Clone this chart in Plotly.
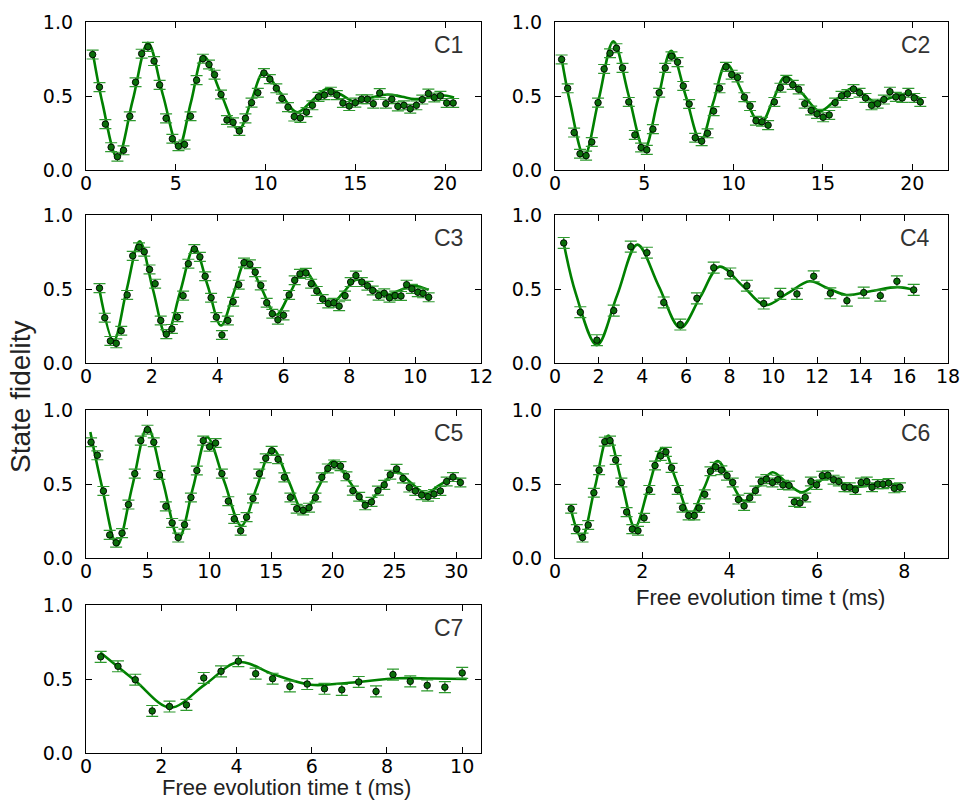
import plotly.graph_objects as go

# ---------------- data ----------------
c1_x = [0.37,0.75,1.08,1.40,1.75,2.09,2.44,2.76,3.10,3.45,3.79,4.10,4.46,4.81,5.15,5.49,5.82,6.16,6.51,6.85,
        7.16,7.52,7.85,8.19,8.54,8.88,9.22,9.57,9.91,10.24,10.60,10.91,11.25,11.60,11.94,12.28,12.61,12.95,13.28,13.64,
        13.97,14.31,14.66,15.00,15.35,15.67,16.00,16.36,16.70,17.03,17.37,17.71,18.06,18.40,18.73,19.07,19.40,19.74,20.09,20.45]
c1_y = [0.78,0.56,0.31,0.154,0.09,0.133,0.363,0.593,0.786,0.832,0.736,0.575,0.349,0.211,0.161,0.172,0.363,0.607,0.752,0.713,
        0.644,0.510,0.338,0.322,0.264,0.349,0.455,0.522,0.655,0.614,0.552,0.483,0.425,0.361,0.352,0.391,0.437,0.494,0.506,0.529,
        0.506,0.453,0.432,0.455,0.478,0.478,0.448,0.520,0.448,0.478,0.430,0.437,0.414,0.437,0.476,0.517,0.490,0.501,0.453,0.453]
c1_fit_x = [0.37,0.92,1.75,2.6,3.45,4.3,5.15,5.85,6.55,7.5,8.5,9.2,9.9,10.8,11.75,12.6,13.45,14.2,15.0,15.9,16.8,17.6,18.3,19.1,19.8,20.5]
c1_fit_y = [0.80,0.45,0.08,0.47,0.86,0.50,0.15,0.46,0.77,0.52,0.27,0.465,0.66,0.525,0.39,0.47,0.55,0.51,0.46,0.49,0.51,0.495,0.48,0.49,0.505,0.49]

c2_x = [0.37,0.71,1.07,1.40,1.74,2.06,2.41,2.75,3.08,3.44,3.78,4.13,4.47,4.82,5.14,5.48,5.83,6.17,6.52,6.86,
        7.18,7.51,7.85,8.21,8.54,8.88,9.21,9.57,9.89,10.22,10.60,10.92,11.25,11.59,11.93,12.28,12.62,12.95,13.31,13.64,
        13.98,14.34,14.67,15.01,15.35,15.68,16.04,16.37,16.71,17.05,17.38,17.72,18.06,18.41,18.75,19.08,19.44,19.78,20.11,20.45]
c2_y = [0.747,0.552,0.253,0.110,0.097,0.189,0.455,0.683,0.789,0.823,0.690,0.460,0.237,0.152,0.136,0.276,0.522,0.690,0.768,0.729,
        0.568,0.446,0.218,0.195,0.248,0.398,0.552,0.697,0.644,0.625,0.492,0.432,0.333,0.326,0.303,0.460,0.556,0.609,0.575,0.545,
        0.448,0.402,0.379,0.356,0.372,0.455,0.501,0.513,0.547,0.522,0.487,0.437,0.448,0.476,0.529,0.494,0.487,0.522,0.487,0.460]
c2_fit_x = [0.34,0.85,1.64,2.45,3.27,4.13,5.0,5.75,6.5,7.32,8.15,8.87,9.59,10.55,11.5,12.2,12.9,13.86,14.82,15.75,16.69,17.3,17.9,18.85,19.78,20.5]
c2_fit_y = [0.775,0.45,0.092,0.48,0.869,0.50,0.138,0.47,0.805,0.50,0.195,0.46,0.717,0.51,0.31,0.47,0.632,0.515,0.398,0.477,0.556,0.508,0.46,0.49,0.517,0.478]

c3_x = [0.41,0.57,0.74,0.92,1.07,1.25,1.42,1.61,1.77,1.93,2.10,2.27,2.44,2.61,2.78,2.95,3.11,3.29,3.46,3.62,
        3.80,3.96,4.13,4.31,4.47,4.64,4.80,4.98,5.14,5.31,5.49,5.66,5.83,6.00,6.17,6.34,6.50,6.68,6.84,7.01,
        7.19,7.36,7.53,7.69,7.87,8.04,8.20,8.38,8.55,8.71,8.89,9.06,9.22,9.39,9.57,9.74,9.90,10.08,10.24,10.41]
c3_y = [0.506,0.306,0.149,0.133,0.218,0.460,0.724,0.782,0.752,0.632,0.536,0.287,0.195,0.230,0.310,0.455,0.671,0.770,0.717,0.586,
        0.441,0.310,0.189,0.287,0.414,0.529,0.678,0.667,0.614,0.524,0.407,0.333,0.292,0.322,0.460,0.559,0.602,0.609,0.536,0.487,
        0.432,0.402,0.407,0.384,0.455,0.547,0.591,0.547,0.522,0.490,0.455,0.471,0.441,0.455,0.453,0.529,0.501,0.478,0.471,0.444]
c3_fit_x = [0.41,0.84,1.23,1.63,2.03,2.44,2.86,3.29,3.70,4.10,4.48,4.87,5.32,5.78,6.2,6.62,7.02,7.41,7.82,8.22,8.66,9.1,9.52,9.95,10.41]
c3_fit_y = [0.494,0.149,0.49,0.823,0.50,0.184,0.48,0.782,0.52,0.253,0.47,0.694,0.51,0.326,0.475,0.625,0.51,0.391,0.477,0.563,0.51,0.46,0.49,0.522,0.494]

c4_x = [0.40,1.16,1.92,2.69,3.47,4.21,4.98,5.74,6.50,7.27,8.03,8.79,9.56,10.32,11.08,11.85,12.61,13.37,14.14,14.90,15.66,16.43]
c4_y = [0.811,0.343,0.154,0.354,0.786,0.745,0.409,0.260,0.437,0.644,0.605,0.522,0.402,0.467,0.467,0.586,0.471,0.421,0.476,0.455,0.552,0.494]
c4_fit_x = [0.37,0.95,1.92,2.85,3.77,4.75,5.74,6.65,7.54,8.6,9.63,10.65,11.66,12.5,13.34,14.5,15.69,16.46]
c4_fit_y = [0.832,0.47,0.12,0.46,0.80,0.52,0.237,0.445,0.651,0.52,0.391,0.47,0.552,0.505,0.46,0.487,0.513,0.494]

c5_x = [0.41,0.92,1.41,1.92,2.44,2.92,3.44,3.95,4.44,4.98,5.49,5.95,6.47,6.98,7.47,7.98,8.50,8.98,9.50,10.01,
        10.50,11.01,11.53,12.01,12.53,13.01,13.53,14.04,14.56,15.04,15.56,16.07,16.56,17.07,17.59,18.07,18.59,19.10,19.59,20.10,
        20.62,21.10,21.62,22.13,22.62,23.13,23.65,24.16,24.65,25.16,25.68,26.19,26.68,27.19,27.71,28.19,28.71,29.22,29.73,30.33]
c5_y = [0.782,0.694,0.453,0.156,0.103,0.168,0.361,0.570,0.793,0.867,0.782,0.561,0.349,0.237,0.138,0.225,0.409,0.591,0.793,0.752,
        0.777,0.570,0.384,0.264,0.184,0.276,0.402,0.570,0.674,0.724,0.667,0.545,0.409,0.333,0.322,0.340,0.409,0.545,0.605,0.632,
        0.621,0.552,0.455,0.414,0.356,0.379,0.455,0.494,0.563,0.602,0.538,0.476,0.453,0.425,0.414,0.432,0.453,0.517,0.547,0.510]
c5_fit_x = [0.35,1.3,2.52,3.75,4.98,6.25,7.52,8.67,9.82,11.2,12.58,13.84,15.10,16.4,17.67,18.85,20.02,21.4,22.73,23.9,25.11,26.3,27.54,28.6,29.7,30.38]
c5_fit_y = [0.851,0.48,0.085,0.485,0.885,0.51,0.133,0.475,0.816,0.517,0.218,0.479,0.740,0.523,0.306,0.48,0.655,0.51,0.368,0.477,0.586,0.51,0.437,0.49,0.54,0.529]

c6_x = [0.37,0.50,0.63,0.76,0.89,1.01,1.14,1.26,1.39,1.52,1.64,1.77,1.90,2.04,2.16,2.29,2.42,2.54,2.67,2.81,
        2.92,3.06,3.19,3.30,3.43,3.56,3.68,3.81,3.94,4.07,4.20,4.33,4.46,4.59,4.72,4.84,4.98,5.10,5.22,5.36,
        5.48,5.61,5.73,5.86,5.99,6.12,6.25,6.38,6.50,6.63,6.75,6.88,7.01,7.14,7.26,7.39,7.51,7.64,7.77,7.90]
c6_y = [0.333,0.195,0.138,0.223,0.441,0.593,0.786,0.793,0.662,0.510,0.310,0.195,0.184,0.271,0.460,0.625,0.690,0.717,0.609,0.460,
        0.340,0.287,0.287,0.338,0.430,0.586,0.616,0.593,0.556,0.510,0.395,0.352,0.407,0.455,0.517,0.533,0.510,0.529,0.494,0.490,
        0.379,0.372,0.409,0.517,0.494,0.556,0.559,0.529,0.517,0.478,0.478,0.460,0.510,0.517,0.478,0.499,0.499,0.506,0.471,0.478]
c6_fit_x = [0.37,0.61,0.915,1.22,1.52,1.83,2.14,2.46,2.78,3.10,3.41,3.72,4.02,4.33,4.65,4.98,5.3,5.65,5.95,6.25,6.54,6.83,7.15,7.47,7.7,7.93]
c6_fit_y = [0.322,0.133,0.48,0.828,0.52,0.207,0.475,0.743,0.52,0.292,0.47,0.655,0.52,0.386,0.48,0.579,0.51,0.444,0.495,0.547,0.51,0.478,0.49,0.506,0.50,0.494]

c7_x = [0.39,0.85,1.31,1.76,2.22,2.67,3.13,3.59,4.05,4.51,4.96,5.42,5.88,6.34,6.80,7.25,7.71,8.16,8.62,9.07,9.54,10.0]
c7_y = [0.650,0.586,0.495,0.284,0.314,0.325,0.507,0.552,0.620,0.536,0.502,0.450,0.466,0.434,0.427,0.480,0.416,0.530,0.484,0.457,0.445,0.541]
c7_fit_x = [0.39,1.3,2.24,3.15,4.05,5.0,5.98,7.0,8.3,9.2,10.12]
c7_fit_y = [0.677,0.49,0.307,0.46,0.614,0.53,0.461,0.475,0.505,0.503,0.50]

panel_labels = ["C1", "C2", "C3", "C4", "C5", "C6", "C7"]
x_ranges = [[0, 22], [0, 22], [0, 12], [0, 18], [0, 32], [0, 9], [0, 10.5]]
x_dticks = [5, 5, 2, 2, 5, 2, 2]
y_tickvals = [0.0, 0.5, 1.0]
errs = [0.03, 0.03, 0.03, 0.037, 0.03, 0.03, 0.037]

data_x = [c1_x, c2_x, c3_x, c4_x, c5_x, c6_x, c7_x]
data_y = [c1_y, c2_y, c3_y, c4_y, c5_y, c6_y, c7_y]
fit_x = [c1_fit_x, c2_fit_x, c3_fit_x, c4_fit_x, c5_fit_x, c6_fit_x, c7_fit_x]
fit_y = [c1_fit_y, c2_fit_y, c3_fit_y, c4_fit_y, c5_fit_y, c6_fit_y, c7_fit_y]

# ---------------- layout geometry (screen pixels of the target) ----------------
W, H = 963, 801
col_px = [(86, 481), (555, 948)]
row_px = [(22, 170), (215, 363), (410, 558), (605, 753)]
positions = [(0, 0), (0, 1), (1, 0), (1, 1), (2, 0), (2, 1), (3, 0)]


def px_x(p):
    return p / W


def px_y(p):
    return 1 - p / H


TICK_FONT = dict(family="DejaVu Sans", size=19, color="black")
LABEL_FONT = dict(family="Liberation Sans, Arial", size=23, color="#333333")
TITLE_FONT = dict(family="Liberation Sans, Arial", size=22, color="#222222")

fig = go.Figure()
layout = dict(width=W, height=H, margin=dict(l=0, r=0, t=0, b=0, pad=0, autoexpand=False),
              paper_bgcolor="white", plot_bgcolor="white", showlegend=False)
annotations = []

for i in range(7):
    r, c = positions[i]
    n = i + 1
    xa = "x" if n == 1 else f"x{n}"
    ya = "y" if n == 1 else f"y{n}"
    fig.add_trace(go.Scatter(x=fit_x[i], y=fit_y[i], mode="lines", xaxis=xa, yaxis=ya,
                             line=dict(color="#008000", width=2.6, shape="spline", smoothing=1.0),
                             hoverinfo="skip"))
    fig.add_trace(go.Scatter(x=data_x[i], y=data_y[i], mode="markers", xaxis=xa, yaxis=ya,
                             marker=dict(size=6.5, color="#0a6e0a", line=dict(color="black", width=0.9)),
                             error_y=dict(type="constant", value=errs[i], color="#2e9a2e",
                                          thickness=1.2, width=6)))
    x0, x1 = col_px[c]
    y0, y1 = row_px[r]
    axis_common = dict(showline=True, linecolor="black", linewidth=1.3, mirror="ticks",
                       ticks="inside", ticklen=6, tickwidth=1.2, tickcolor="black",
                       showgrid=False, zeroline=False, tickfont=TICK_FONT, automargin=False)
    layout["xaxis" if n == 1 else f"xaxis{n}"] = dict(
        domain=[px_x(x0), px_x(x1)], anchor=ya, range=x_ranges[i], tick0=0, dtick=x_dticks[i],
        ticklabelstandoff=-4, **axis_common)
    layout["yaxis" if n == 1 else f"yaxis{n}"] = dict(
        domain=[px_y(y1), px_y(y0)], anchor=xa, range=[0, 1], tickvals=y_tickvals,
        tickformat=".1f", ticklabelstandoff=8, **axis_common)
    annotations.append(dict(text=panel_labels[i], xref=f"{xa} domain", yref=f"{ya} domain",
                            x=1, y=1, xanchor="right", yanchor="top", xshift=-16, yshift=-8,
                            showarrow=False, font=LABEL_FONT))

annotations.append(dict(text="Free evolution time t (ms)", xref="paper", yref="paper",
                        x=px_x(286), y=0, xanchor="center", yanchor="bottom", borderpad=0,
                        showarrow=False, font=TITLE_FONT))
annotations.append(dict(text="Free evolution time t (ms)", xref="paper", yref="paper",
                        x=px_x(760), y=px_y(597), xanchor="center", yanchor="middle", borderpad=0,
                        showarrow=False, font=TITLE_FONT))
annotations.append(dict(text="State fidelity", xref="paper", yref="paper",
                        x=px_x(20), y=px_y(397), xanchor="center", yanchor="middle", textangle=-90,
                        showarrow=False, font=dict(family="Liberation Sans Narrow, Liberation Sans", size=28, color="#222222")))

layout["annotations"] = annotations
fig.update_layout(**layout)
fig.write_html("out.html")
